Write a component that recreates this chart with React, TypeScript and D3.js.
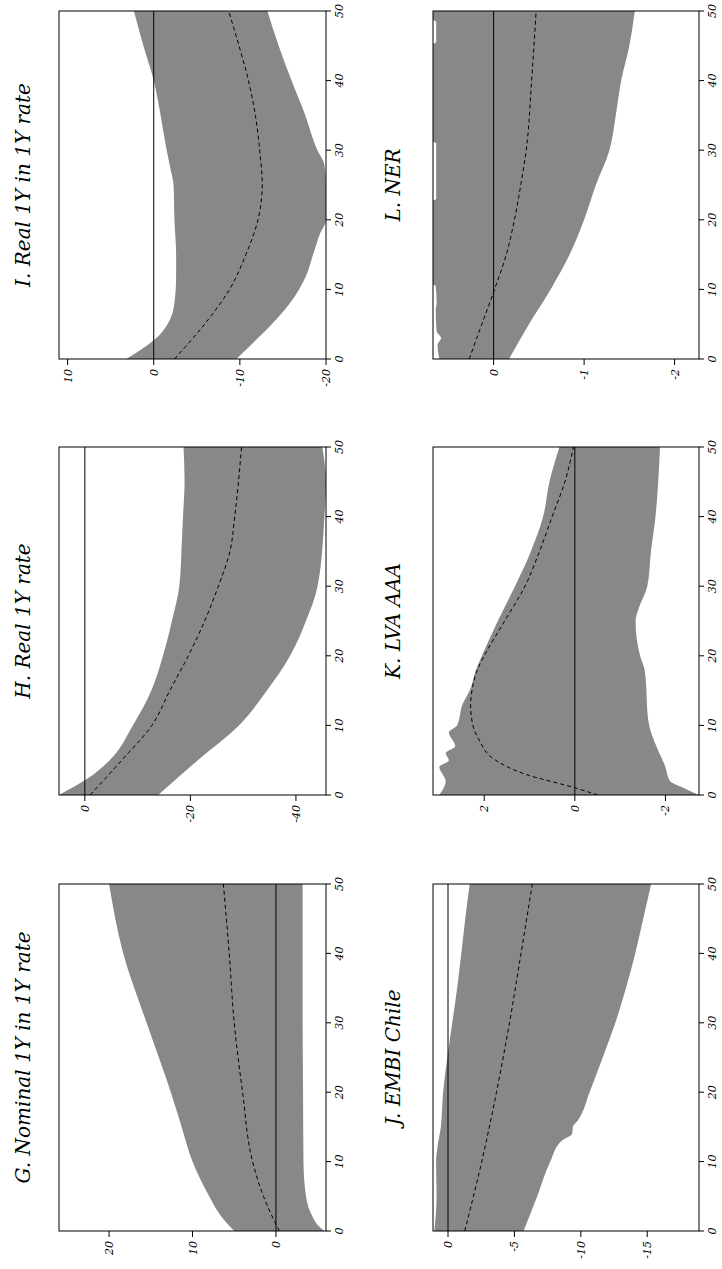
import React from "react";
import * as d3 from "d3";

const gT = [0, 2, 5, 10, 15, 20, 30, 40, 50];
const gUp = [5.0, 6.5, 8.0, 10.0, 11.3, 12.6, 15.5, 18.3, 20.0];
const gLoT = [0, 1, 2, 5, 10, 20, 30, 40, 50];
const gLo = [-5.8, -4.9, -4.4, -3.6, -3.3, -3.25, -3.2, -3.2, -3.2];
const gMidT = [0, 5, 10, 20, 30, 40, 50];
const gMid = [-0.4, 1.5, 2.8, 4.0, 5.0, 5.6, 6.3];

const hT = [0, 2.5, 5, 10, 15, 20, 25, 30, 33, 35, 40, 45, 50];
const hUp = [4.9, -0.8, -4.7, -9.1, -12.6, -14.8, -16.5, -17.9, -18.2, -18.3, -18.6, -18.9, -18.7];
const hLoT = [0, 5, 10, 15, 20, 25, 30, 40, 45, 50];
const hLo = [-13.9, -21.4, -29.2, -34.5, -38.9, -41.9, -44.1, -45.4, -45.7, -45.0];
const hMidT = [0, 5, 10, 15, 20, 25, 30, 35, 40, 50];
const hMid = [-1.0, -7.0, -12.7, -16.1, -19.6, -22.7, -25.3, -27.5, -28.4, -29.7];

const iT = [0, 1, 3, 5, 8, 12, 15, 20, 25, 27, 30, 35, 40, 45, 50];
const iUp = [3.2, 1.9, -0.3, -1.6, -2.4, -2.6, -2.6, -2.4, -2.3, -2.0, -1.5, -0.8, 0.0, 1.2, 2.3];
const iLoT = [0, 3, 5, 8, 12, 15, 18, 20, 25, 28, 30, 35, 40, 45, 50];
const iLo = [-9.6, -12.1, -13.7, -15.8, -17.7, -18.5, -19.3, -20, -20, -19.8, -19.0, -17.6, -16.0, -14.5, -13.2];
const iMidT = [0, 5, 10, 15, 20, 25, 30, 35, 40, 45, 50];
const iMid = [-2.4, -5.9, -8.8, -10.7, -12.1, -12.6, -12.3, -11.8, -11.0, -9.9, -8.7];

const jT = [0, 5, 10, 12, 15, 20, 25, 30, 35, 40, 45, 50];
const jUp = [1.03, 0.86, 0.9, 0.8, 0.54, 0.37, 0.05, -0.32, -0.69, -1.0, -1.3, -1.63];
const jLoT = [0, 5, 10, 13, 14, 15, 16, 20, 25, 30, 35, 40, 45, 50];
const jLo = [-5.69, -6.72, -7.7, -8.57, -9.35, -9.4, -9.8, -10.66, -11.65, -12.6, -13.4, -14.1, -14.7, -15.3];
const jMidT = [0, 10, 20, 30, 40, 50];
const jMid = [-1.26, -2.54, -3.65, -4.63, -5.5, -6.35];

const kT = [0, 2, 3, 4, 5, 6, 7, 9, 10, 13, 15, 18, 20, 25, 30, 35, 40, 45, 50];
const kUp = [2.99, 2.85, 2.92, 2.99, 2.78, 2.85, 2.64, 2.78, 2.6, 2.48, 2.32, 2.18, 2.05, 1.7, 1.32, 0.97, 0.7, 0.56, 0.34];
const kLoT = [0, 1, 2, 4, 7, 10, 12, 15, 18, 20, 25, 27, 30, 35, 40, 45, 50];
const kLo = [-2.74, -2.4, -2.1, -2.0, -1.8, -1.64, -1.6, -1.58, -1.54, -1.44, -1.34, -1.42, -1.6, -1.68, -1.78, -1.84, -1.88];
const kMidT = [0, 1, 3, 5, 8, 10, 13, 15, 18, 20, 25, 30, 35, 40, 45, 50];
const kMid = [-0.5, -0.02, 1.1, 1.75, 2.12, 2.25, 2.3, 2.27, 2.15, 2.0, 1.55, 1.1, 0.78, 0.5, 0.22, 0.03];

const lT = [0, 2, 3, 4, 7, 8, 10.5, 11, 22.5, 23, 31, 31.5, 45, 45.5, 48.5, 49, 50];
const lUp = [0.6, 0.62, 0.58, 0.63, 0.64, 0.63, 0.64, 0.75, 0.75, 0.635, 0.635, 0.75, 0.75, 0.635, 0.635, 0.75, 0.75];
const lLoT = [0, 5, 10, 15, 20, 25, 30, 35, 40, 45, 50];
const lLo = [-0.17, -0.39, -0.63, -0.84, -1.0, -1.13, -1.28, -1.35, -1.41, -1.5, -1.56];
const lMidT = [0, 5, 10, 15, 20, 25, 30, 40, 50];
const lMid = [0.27, 0.13, -0.01, -0.14, -0.23, -0.3, -0.36, -0.42, -0.47];

const timeTicks = [0, 10, 20, 30, 40, 50];

const panels = [
  { title: "G. Nominal 1Y in 1Y rate", col: 0, row: 2, dom: [26, -6.0], ticks: [20, 10, 0], upT: gT, up: gUp, loT: gLoT, lo: gLo, midT: gMidT, mid: gMid },
  { title: "H. Real 1Y rate", col: 0, row: 1, dom: [4.9, -45.7], ticks: [0, -20, -40], upT: hT, up: hUp, loT: hLoT, lo: hLo, midT: hMidT, mid: hMid },
  { title: "I. Real 1Y in 1Y rate", col: 0, row: 0, dom: [11, -20], ticks: [10, 0, -10, -20], upT: iT, up: iUp, loT: iLoT, lo: iLo, midT: iMidT, mid: iMid },
  { title: "J. EMBI Chile", col: 1, row: 2, dom: [1.13, -18.9], ticks: [0, -5, -10, -15], upT: jT, up: jUp, loT: jLoT, lo: jLo, midT: jMidT, mid: jMid },
  { title: "K. LVA AAA", col: 1, row: 1, dom: [3.13, -2.74], ticks: [2, 0, -2], upT: kT, up: kUp, loT: kLoT, lo: kLo, midT: kMidT, mid: kMid },
  { title: "L. NER", col: 1, row: 0, dom: [0.67, -2.27], ticks: [0, -1, -2], upT: lT, up: lUp, loT: lLoT, lo: lLo, midT: lMidT, mid: lMid },
];

const colX = [[59, 326], [433, 699]];
const rowY = [[11, 359], [447, 795], [884, 1231]];
const titleX = [30, 400];
const font = "'DejaVu Serif', 'Liberation Serif', serif";

function Panel({ p }: { p: any }) {
  const [x0, x1] = colX[p.col];
  const [y0, y1] = rowY[p.row];
  const xs = d3.scaleLinear().domain(p.dom).range([x0, x1]);
  const ys = d3.scaleLinear().domain([0, 50]).range([y1, y0]);
  const upPts: [number, number][] = p.upT.map((t: number, i: number) => [xs(p.up[i]), ys(t)]);
  const loPts: [number, number][] = p.loT.map((t: number, i: number) => [xs(p.lo[i]), ys(t)]);
  const lineY = d3.line().curve(d3.curveMonotoneY);
  const poly = lineY(upPts)! + "L" + lineY(loPts.slice().reverse())!.slice(1) + "Z";
  const midPts: [number, number][] = p.midT.map((t: number, i: number) => [xs(p.mid[i]), ys(t)]);
  const cy = (y0 + y1) / 2;
  const fmt = (v: number) => (v < 0 ? "-" + Math.abs(v) : String(v));
  return (
    <g>
      <clipPath id={"c" + p.title[0]}>
        <rect x={x0} y={y0} width={x1 - x0} height={y1 - y0} />
      </clipPath>
      <g clipPath={`url(#c${p.title[0]})`}>
        <path d={poly} fill="#888888" stroke="none" />
        <line x1={xs(0)} x2={xs(0)} y1={y0} y2={y1} stroke="#000" strokeWidth={1} />
        <path d={lineY(midPts)!} fill="none" stroke="#000" strokeWidth={1} strokeDasharray="4,3" />
      </g>
      <rect x={x0} y={y0} width={x1 - x0} height={y1 - y0} fill="none" stroke="#000" strokeWidth={1} />
      {timeTicks.map((t) => (
        <g key={t}>
          <line x1={x1} x2={x1 + 5} y1={ys(t)} y2={ys(t)} stroke="#000" />
          <text transform={`translate(${x1 + 17},${ys(t)}) rotate(-90)`} textAnchor="middle" fontSize={11} fontStyle="italic" fontFamily={font}>{t}</text>
        </g>
      ))}
      {p.ticks.map((v: number) => (
        <g key={v}>
          <line x1={xs(v)} x2={xs(v)} y1={y1} y2={y1 + 6} stroke="#000" />
          <text transform={`translate(${xs(v) + 4},${y1 + 10}) rotate(-90)`} textAnchor="end" fontSize={11} fontStyle="italic" fontFamily={font}>{fmt(v)}</text>
        </g>
      ))}
      <text transform={`translate(${titleX[p.col]},${cy}) rotate(-90)`} textAnchor="middle" fontSize={20} fontStyle="italic" fontFamily={font}>{p.title}</text>
    </g>
  );
}

export default function App() {
  return (
    <svg width={722} height={1269} style={{ position: "absolute", left: 0, top: 0, background: "#fff" }}>
      <rect width={722} height={1269} fill="#fff" />
      {panels.map((p) => <Panel key={p.title} p={p} />)}
    </svg>
  );
}
